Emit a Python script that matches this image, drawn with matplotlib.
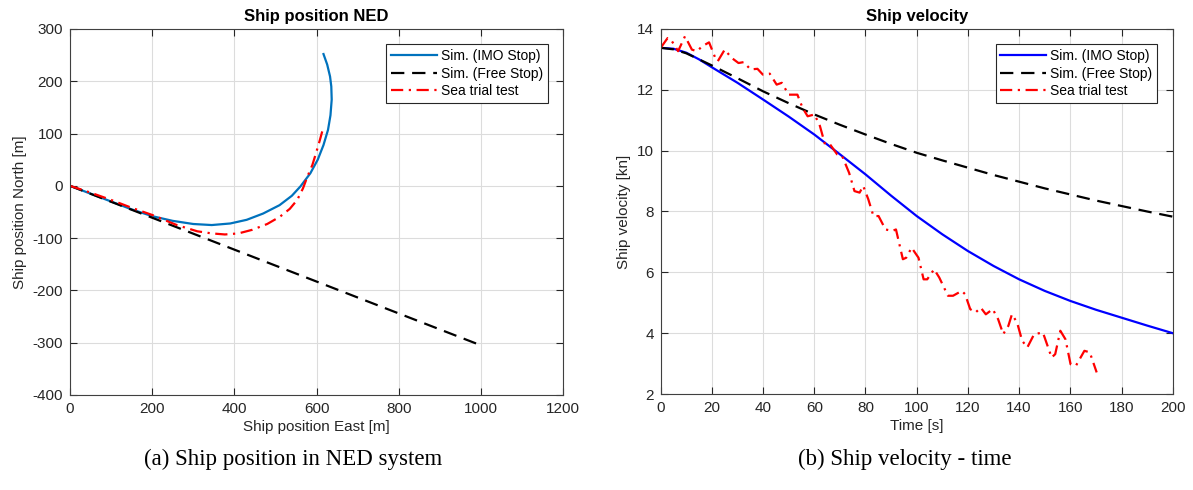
import numpy as np
import matplotlib
matplotlib.use('Agg')
import matplotlib.pyplot as plt

plt.rcParams['font.family'] = ['Liberation Sans', 'DejaVu Sans']
plt.rcParams['axes.unicode_minus'] = False

# --- Ship position NED (East, North) ---
imo_east = [0, 50, 100, 150, 200, 250, 300, 345, 390, 430, 470, 510, 540, 561, 585, 603,
            617, 628, 634, 637, 636, 633, 626, 617]
imo_north = [0, -15, -30, -45, -58, -67, -73, -75, -72, -65, -53, -37, -19, -1, 24, 50,
             78, 107, 135, 165, 190, 209, 232, 252]

free_east = [0, 1000]
free_north = [0, -305]

sea_east = [0, 50, 100, 150, 201, 260, 310, 345, 377, 410, 444, 480, 511, 535, 553, 567,
            578, 590, 599, 608, 616]
sea_north = [0, -13, -27, -42, -56, -75, -87, -91, -93, -91, -84, -73, -59, -44, -27, -5,
             18, 40, 63, 87, 110]

# --- Ship velocity vs time ---
t_sim = [0, 5, 10, 15, 20, 30, 40, 50, 60, 70, 80, 90, 100, 110, 120, 130, 140, 150, 160, 170, 180, 190, 200]
v_imo = [13.38, 13.35, 13.22, 13.0, 12.74, 12.23, 11.68, 11.12, 10.53, 9.88, 9.22, 8.52, 7.85, 7.25, 6.70, 6.21, 5.77, 5.39, 5.06, 4.77, 4.51, 4.25, 4.0]
v_free = [13.38, 13.33, 13.2, 13.0, 12.8, 12.38, 11.95, 11.56, 11.19, 10.85, 10.53, 10.22, 9.93, 9.68, 9.44, 9.2, 8.98, 8.76, 8.56, 8.36, 8.18, 8.0, 7.83]

t_sea = [0, 2.7, 4, 6.8, 9.5, 12.2, 14.2, 16.2, 18.9, 21.6, 22.3, 25, 27.7, 30.4, 32.4, 35.1, 37.8,
         39.9, 42.6, 45.3, 47.3, 50, 53.4, 55.4, 57.4, 60.1, 62.2, 64.2, 66.2, 68.9, 70.9, 73.6,
         75.7, 77.7, 79.1, 81.1, 83.1, 85.1, 87.8, 90.5, 91.9, 94.6, 95.9, 98, 100.7, 102.7, 104.1,
         106.8, 108.8, 112.2, 114.2, 117.6, 118.9, 120.9, 123, 125, 127, 129.7, 131.8, 133.8, 135.8,
         137.2, 139.2, 141.2, 143.2, 145.9, 149.3, 152.7, 154.1, 156.1, 158.1, 160.1, 162.2, 165.5,
         167.6, 170.3]
v_sea = [13.38, 13.70, 13.65, 13.27, 13.76, 13.32, 13.27, 13.43, 13.56, 12.99, 12.94, 13.32, 13.05,
         12.88, 12.91, 12.67, 12.69, 12.50, 12.53, 12.17, 12.23, 11.84, 11.84, 11.41, 11.13, 11.19,
         10.81, 10.20, 10.20, 9.88, 9.82, 9.27, 8.67, 8.62, 8.84, 8.40, 7.85, 7.85, 7.41, 7.36, 7.41,
         6.43, 6.48, 6.81, 6.48, 5.77, 5.77, 6.10, 5.83, 5.23, 5.23, 5.39, 5.28, 4.79, 4.68, 4.84,
         4.62, 4.79, 4.46, 3.97, 4.24, 4.62, 4.35, 3.75, 3.53, 3.97, 4.02, 3.20, 3.31, 4.08, 3.80,
         2.98, 2.93, 3.42, 3.37, 2.71]

labels = ['Sim. (IMO Stop)', 'Sim. (Free Stop)', 'Sea trial test']

fig = plt.figure(figsize=(11.93, 4.90), dpi=100)
ax1 = fig.add_axes([0.0587, 0.1939, 0.4132, 0.747])
ax2 = fig.add_axes([0.5538, 0.1959, 0.4292, 0.745])

dash = (6, 3.5)
dashdot = (5.5, 2.5, 1, 2.5)
txt = '#262626'


def style(ax):
    ax.grid(True, color='#dcdcdc', linewidth=0.8)
    ax.set_axisbelow(True)
    ax.tick_params(direction='in', top=True, right=True, length=5, width=0.8,
                   labelsize=11, colors=txt, pad=5)
    for s in ax.spines.values():
        s.set_color('#404040')
        s.set_linewidth(0.8)
    leg = ax.legend(loc='upper right', fontsize=10, fancybox=False, framealpha=1,
                    edgecolor='#262626', handlelength=3.3, borderpad=0.35,
                    labelspacing=0.25, handletextpad=0.3, borderaxespad=1.1)
    leg.get_frame().set_linewidth(0.8)


ax1.plot(imo_east, imo_north, color='#0072BD', lw=1.6, label=labels[0])
ax1.plot(free_east, free_north, color='black', lw=1.6, dashes=dash, label=labels[1])
ax1.plot(sea_east, sea_north, color='red', lw=1.6, dashes=dashdot, label=labels[2])
ax1.set_xlim(0, 1200)
ax1.set_ylim(-400, 300)
ax1.set_xticks(np.arange(0, 1201, 200))
ax1.set_yticks(np.arange(-400, 301, 100))
ax1.set_title('Ship position NED', fontsize=12, fontweight='bold', pad=6)
ax1.set_xlabel('Ship position East [m]', fontsize=11, color=txt, labelpad=3)
ax1.set_ylabel('Ship position North [m]', fontsize=11, color=txt, labelpad=4)
style(ax1)

ax2.plot(t_sim, v_imo, color='blue', lw=1.6, label=labels[0])
ax2.plot(t_sim, v_free, color='black', lw=1.6, dashes=dash, label=labels[1])
ax2.plot(t_sea, v_sea, color='red', lw=1.6, dashes=dashdot, label=labels[2])
ax2.set_xlim(0, 200)
ax2.set_ylim(2, 14)
ax2.set_xticks(np.arange(0, 201, 20))
ax2.set_yticks(np.arange(2, 15, 2))
ax2.set_title('Ship velocity', fontsize=12, fontweight='bold', pad=6)
ax2.set_xlabel('Time [s]', fontsize=11, color=txt, labelpad=3)
ax2.set_ylabel('Ship velocity [kn]', fontsize=11, color=txt, labelpad=4)
style(ax2)

fig.text(293 / 1193, 0.063, '(a) Ship position in NED system', ha='center', va='center',
         fontsize=16.5, family=['Liberation Serif', 'DejaVu Serif'])
fig.text(905 / 1193, 0.063, '(b) Ship velocity - time', ha='center', va='center',
         fontsize=16.5, family=['Liberation Serif', 'DejaVu Serif'])

fig.savefig('out.png', dpi=100)
